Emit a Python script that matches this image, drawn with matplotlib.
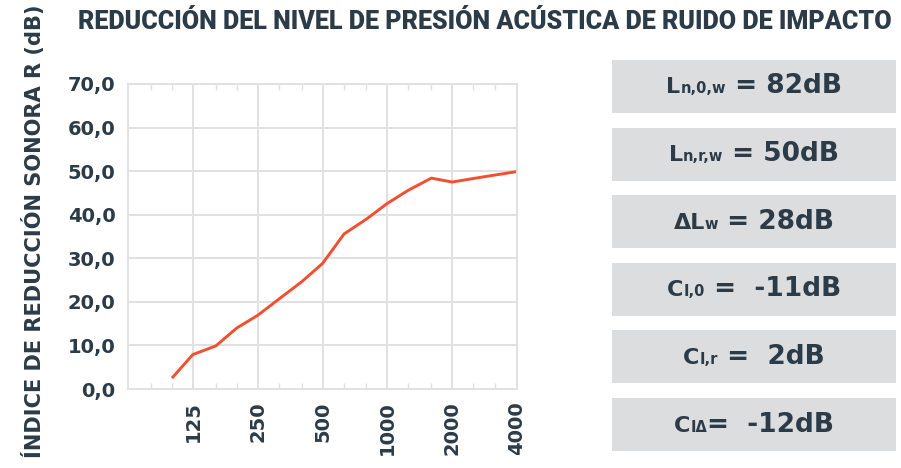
import matplotlib
matplotlib.use("Agg")
import matplotlib.pyplot as plt
from matplotlib.ticker import FixedLocator, FuncFormatter, NullFormatter
from matplotlib.offsetbox import TextArea, HPacker, AnnotationBbox

# 1/3 octave bands (Hz) and reduction index R (dB)
freqs = [100, 125, 160, 200, 250, 315, 400, 500, 630, 800, 1000,
         1250, 1600, 2000, 2500, 3150, 4000]
r_values = [2.5, 7.9, 9.9, 14.0, 16.9, 20.7, 24.6, 28.8, 35.6, 39.0, 42.6,
            45.6, 48.4, 47.5, 48.3, 49.1, 49.9]
major_freqs = [125, 250, 500, 1000, 2000, 4000]
minor_freqs = [80, 100, 160, 200, 315, 400, 630, 800, 1250, 1600, 2500, 3150]
y_ticks = [0, 10, 20, 30, 40, 50, 60, 70]

# summary boxes on the right
box_main = ["L", "L", "\u0394L", "C", "C", "C"]
box_sub = ["n,0,w", "n,r,w", "w", "I,0", "I,r", "I\u0394"]
box_value = [" = 82dB", " = 50dB", " = 28dB", " =  -11dB", " =  2dB", "=  -12dB"]

DARK = "#2c3b48"
GRID = "#e1e1e1"
LINE = "#f0502f"
BOX = "#dcdddf"
FONT = "DejaVu Sans"

fig = plt.figure(figsize=(9.01, 4.68), dpi=100)

ax = fig.add_axes([128 / 901, 1 - 389 / 468, (517 - 128) / 901, (389 - 84) / 468])
ax.plot(freqs, r_values, color=LINE, linewidth=2.1, solid_capstyle="butt")
ax.set_xscale("log", base=2)
ax.set_xlim(62.5, 4000)
ax.set_ylim(0, 70)
ax.xaxis.set_major_locator(FixedLocator(major_freqs))
ax.xaxis.set_major_formatter(FuncFormatter(lambda v, p: f"{int(round(v))}"))
ax.xaxis.set_minor_locator(FixedLocator(minor_freqs))
ax.xaxis.set_minor_formatter(NullFormatter())
ax.yaxis.set_major_locator(FixedLocator(y_ticks))
ax.yaxis.set_major_formatter(FuncFormatter(lambda v, p: f"{v:.1f}".replace(".", ",")))
ax.grid(True, which="major", color=GRID, linewidth=1.4)
ax.set_axisbelow(True)
for s in ax.spines.values():
    s.set_color(GRID)
    s.set_linewidth(1.4)
ax.tick_params(axis="both", which="major", length=0, colors=DARK)
ax.tick_params(axis="x", which="major", pad=9)
ax.tick_params(axis="y", which="major", pad=9)
ax.tick_params(axis="x", which="minor", direction="in", length=4, width=1,
               color=GRID, top=True, bottom=True)
for lab in ax.get_xticklabels():
    lab.set_rotation(90)
    lab.set_fontfamily(FONT)
    lab.set_fontweight("bold")
    lab.set_fontsize(14)
    lab.set_va("top")
for lab in ax.get_yticklabels():
    lab.set_fontfamily(FONT)
    lab.set_fontweight("bold")
    lab.set_fontsize(14)

ylab = fig.text(34 / 901, 0.505, "ÍNDICE DE REDUCCIÓN SONORA R (dB)", rotation=90,
                ha="center", va="center", color=DARK, fontsize=14,
                fontweight="bold", family=FONT)
title = fig.text(485 / 901, 1 - 22 / 468,
                 "REDUCCIÓN DEL NIVEL DE PRESIÓN ACÚSTICA DE RUIDO DE IMPACTO",
                 ha="center", va="center", color=DARK, fontsize=15,
                 fontweight="black", family="Roboto")

# right panel with the single-number ratings
ax2 = fig.add_axes([612 / 901, 1 - 451 / 468, (896 - 612) / 901, (451 - 60) / 468])
rows = list(range(len(box_main)))
ax2.barh(rows, [1] * len(rows), height=0.784, left=0, color=BOX)
ax2.set_xlim(0, 1)
ax2.set_ylim(len(rows) - 1 + 0.392, -0.392)
ax2.axis("off")

for i in rows:
    parts = [
        TextArea(box_main[i], textprops=dict(color=DARK, fontsize=16,
                 fontweight="bold", family=FONT)),
        TextArea(box_sub[i], textprops=dict(color=DARK, fontsize=10.5,
                 fontweight="bold", family=FONT)),
        TextArea(box_value[i], textprops=dict(color=DARK, fontsize=19,
                 fontweight="bold", family=FONT)),
    ]
    pack = HPacker(children=parts, align="baseline", pad=0, sep=0)
    ab = AnnotationBbox(pack, (0.5, i), xycoords="data", frameon=False,
                        box_alignment=(0.5, 0.5), pad=0)
    ax2.add_artist(ab)

# fit title and y label lengths to the reference
fig.canvas.draw()
r = fig.canvas.get_renderer()
w = title.get_window_extent(r).width
title.set_fontsize(15 * 820 / w)
h = ylab.get_window_extent(r).height
ylab.set_fontsize(14 * 455 / h)

fig.savefig("out.png", dpi=100)
